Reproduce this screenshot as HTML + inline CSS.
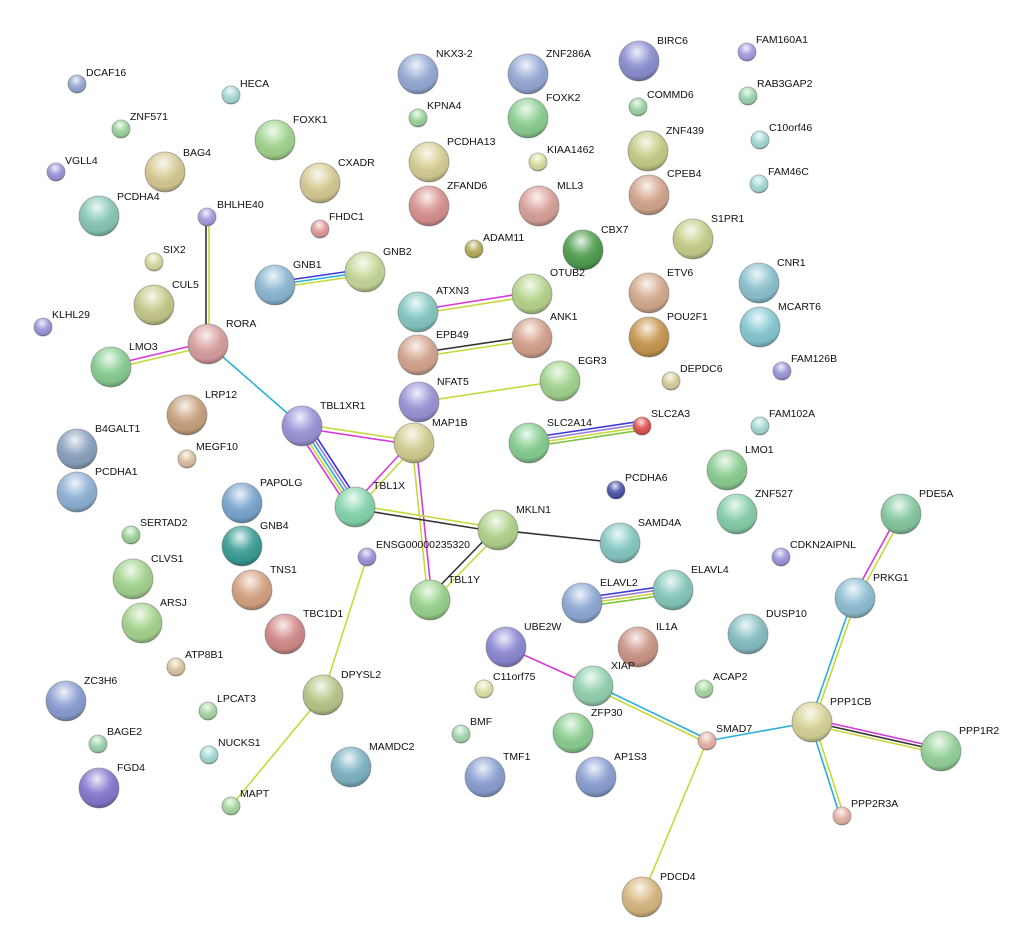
<!DOCTYPE html>
<html><head><meta charset="utf-8"><style>
html,body{margin:0;padding:0;background:#fff;}
svg{display:block;}
text{font-family:"Liberation Sans",sans-serif;font-size:10.5px;fill:#111;}
.n{stroke-width:1;}
</style></head><body>
<svg width="1012" height="944" viewBox="0 0 1012 944" xmlns="http://www.w3.org/2000/svg">
<defs>
<radialGradient id="g" cx="45%" cy="28%" r="70%">
<stop offset="0" stop-color="#fff" stop-opacity="0.85"/>
<stop offset="0.45" stop-color="#fff" stop-opacity="0.15"/>
<stop offset="0.85" stop-color="#000" stop-opacity="0.05"/>
<stop offset="1" stop-color="#000" stop-opacity="0.25"/>
</radialGradient>
</defs>
<g fill="none" stroke-width="1.6">
<!-- BHLHE40-RORA -->
<line x1="206" y1="217" x2="206" y2="344" stroke="#333"/><line x1="209" y1="217" x2="209" y2="344" stroke="#c6d83a"/>
<!-- RORA-LMO3 -->
<line x1="208" y1="342" x2="111" y2="365" stroke="#d63ad6"/><line x1="208" y1="346" x2="111" y2="369" stroke="#c6d83a"/>
<!-- RORA-TBL1XR1 -->
<line x1="208" y1="344" x2="302" y2="426" stroke="#2ab0d8"/>
<!-- GNB1-GNB2 -->
<line x1="275" y1="282" x2="365" y2="269" stroke="#3a3ad8"/><line x1="275" y1="285" x2="365" y2="272" stroke="#2ab0d8"/><line x1="275" y1="288" x2="365" y2="275" stroke="#c6d83a"/>
<!-- ATXN3-OTUB2 -->
<line x1="418" y1="310" x2="532" y2="292" stroke="#d63ad6"/><line x1="418" y1="314" x2="532" y2="296" stroke="#c6d83a"/>
<!-- EPB49-ANK1 -->
<line x1="418" y1="353" x2="532" y2="336" stroke="#333"/><line x1="418" y1="357" x2="532" y2="340" stroke="#c6d83a"/>
<!-- NFAT5-EGR3 -->
<line x1="419" y1="402" x2="560" y2="381" stroke="#c6d83a"/>
<!-- TBL1XR1-MAP1B -->
<line x1="302" y1="428" x2="414" y2="445" stroke="#d63ad6"/><line x1="302" y1="424" x2="414" y2="441" stroke="#c6d83a"/>
<!-- TBL1XR1-TBL1X -->
<line x1="296" y1="428" x2="349" y2="509" stroke="#d63ad6"/><line x1="299" y1="427" x2="352" y2="508" stroke="#c6d83a"/><line x1="302" y1="426" x2="355" y2="507" stroke="#2ab0d8"/><line x1="305" y1="425" x2="358" y2="506" stroke="#9a7ad8"/><line x1="308" y1="424" x2="361" y2="505" stroke="#3a3ad8"/>
<!-- MAP1B-TBL1X -->
<line x1="412" y1="441" x2="353" y2="505" stroke="#d63ad6"/><line x1="416" y1="445" x2="357" y2="509" stroke="#c6d83a"/>
<!-- MAP1B-TBL1Y -->
<line x1="416" y1="443" x2="432" y2="600" stroke="#d63ad6"/><line x1="412" y1="443" x2="428" y2="600" stroke="#c6d83a"/>
<!-- TBL1X-MKLN1 -->
<line x1="355" y1="509" x2="498" y2="532" stroke="#333"/><line x1="355" y1="505" x2="498" y2="528" stroke="#c6d83a"/>
<!-- MKLN1-SAMD4A -->
<line x1="498" y1="530" x2="620" y2="543" stroke="#333"/>
<!-- MKLN1-TBL1Y -->
<line x1="496" y1="528" x2="428" y2="598" stroke="#333"/><line x1="500" y1="532" x2="432" y2="602" stroke="#c6d83a"/>
<!-- SLC2A14-SLC2A3 -->
<line x1="529" y1="438" x2="642" y2="421" stroke="#3a3ad8"/><line x1="529" y1="441" x2="642" y2="424" stroke="#9a7ad8"/><line x1="529" y1="444" x2="642" y2="427" stroke="#c6d83a"/><line x1="529" y1="447" x2="642" y2="430" stroke="#7ac43a"/>
<!-- ELAVL2-ELAVL4 -->
<line x1="582" y1="598" x2="673" y2="585" stroke="#3a3ad8"/><line x1="582" y1="601" x2="673" y2="588" stroke="#9a7ad8"/><line x1="582" y1="604" x2="673" y2="591" stroke="#c6d83a"/><line x1="582" y1="607" x2="673" y2="594" stroke="#7ac43a"/>
<!-- ENSG-DPYSL2 -->
<line x1="367" y1="557" x2="323" y2="695" stroke="#c6d83a"/>
<line x1="323" y1="695" x2="231" y2="806" stroke="#c6d83a"/>
<!-- UBE2W-XIAP -->
<line x1="506" y1="647" x2="593" y2="686" stroke="#d63ad6"/>
<!-- XIAP-SMAD7 -->
<line x1="593" y1="684" x2="707" y2="739" stroke="#2ab0d8"/><line x1="593" y1="688" x2="707" y2="743" stroke="#c6d83a"/>
<line x1="707" y1="741" x2="812" y2="722" stroke="#2ab0d8"/>
<line x1="707" y1="741" x2="642" y2="897" stroke="#c6d83a"/>
<!-- PDE5A-PRKG1 -->
<line x1="899" y1="513" x2="853" y2="597" stroke="#d63ad6"/><line x1="903" y1="515" x2="857" y2="599" stroke="#c6d83a"/>
<!-- PRKG1-PPP1CB -->
<line x1="853" y1="598" x2="810" y2="722" stroke="#2ab0d8"/><line x1="857" y1="598" x2="814" y2="722" stroke="#c6d83a"/>
<!-- PPP1CB-PPP1R2 -->
<line x1="812" y1="719" x2="941" y2="748" stroke="#d63ad6"/><line x1="812" y1="722" x2="941" y2="751" stroke="#333"/><line x1="812" y1="725" x2="941" y2="754" stroke="#c6d83a"/>
<!-- PPP1CB-PPP2R3A -->
<line x1="810" y1="722" x2="840" y2="816" stroke="#2ab0d8"/><line x1="814" y1="722" x2="844" y2="816" stroke="#c6d83a"/>
</g>
<g class="n" stroke="#6a6a6a" stroke-opacity="0.5">
<circle cx="77" cy="84" r="9" fill="#97a9d4"/><circle cx="231" cy="95" r="9" fill="#a6dcd7"/><circle cx="121" cy="129" r="9" fill="#9dd59c"/><circle cx="56" cy="172" r="9" fill="#9c97db"/>
<circle cx="165" cy="172" r="20" fill="#d8cb94"/><circle cx="99" cy="216" r="20" fill="#88c9b8"/><circle cx="207" cy="217" r="9" fill="#a99ce0"/><circle cx="154" cy="262" r="9" fill="#d7db9c"/>
<circle cx="154" cy="305" r="20" fill="#c6c98a"/><circle cx="43" cy="327" r="9" fill="#9c97db"/><circle cx="208" cy="344" r="20" fill="#d99e9e"/><circle cx="111" cy="367" r="20" fill="#88cf92"/>
<circle cx="275" cy="140" r="20" fill="#a3d58f"/><circle cx="320" cy="183" r="20" fill="#d8cb94"/><circle cx="320" cy="229" r="9" fill="#e29b9b"/><circle cx="275" cy="285" r="20" fill="#8cb8d4"/><circle cx="365" cy="272" r="20" fill="#c6d99a"/>
<circle cx="418" cy="74" r="20" fill="#95aad6"/><circle cx="418" cy="118" r="9" fill="#9dd59c"/><circle cx="429" cy="162" r="20" fill="#d8cf94"/><circle cx="429" cy="206" r="20" fill="#d99290"/>
<circle cx="528" cy="74" r="20" fill="#95aad6"/><circle cx="528" cy="118" r="20" fill="#8ccf92"/><circle cx="538" cy="162" r="9" fill="#dadf9f"/><circle cx="539" cy="206" r="20" fill="#dba29a"/><circle cx="474" cy="249" r="9" fill="#b8ae5e"/>
<circle cx="639" cy="61" r="20" fill="#8b8fd1"/><circle cx="638" cy="107" r="9" fill="#9dd5a6"/><circle cx="648" cy="151" r="20" fill="#c8cd88"/><circle cx="649" cy="195" r="20" fill="#d5a68e"/>
<circle cx="583" cy="250" r="20" fill="#4f9e4f"/><circle cx="532" cy="294" r="20" fill="#b8d58c"/><circle cx="418" cy="312" r="20" fill="#86c9c4"/><circle cx="418" cy="355" r="20" fill="#d5a68e"/><circle cx="532" cy="338" r="20" fill="#d6a28e"/>
<circle cx="419" cy="402" r="20" fill="#9a95d8"/><circle cx="560" cy="381" r="20" fill="#a3d58f"/>
<circle cx="747" cy="52" r="9" fill="#a89ce0"/><circle cx="748" cy="96" r="9" fill="#9dd5b0"/><circle cx="760" cy="140" r="9" fill="#a6dcd7"/><circle cx="759" cy="184" r="9" fill="#a6dcd7"/>
<circle cx="693" cy="239" r="20" fill="#c8cf8a"/><circle cx="649" cy="293" r="20" fill="#d6ab8e"/><circle cx="649" cy="337" r="20" fill="#c9974f"/><circle cx="759" cy="283" r="20" fill="#8cc3d0"/><circle cx="760" cy="327" r="20" fill="#86c9d4"/>
<circle cx="782" cy="371" r="9" fill="#9c97db"/><circle cx="671" cy="381" r="9" fill="#dbd0a0"/><circle cx="760" cy="426" r="9" fill="#a6dcd7"/>
<circle cx="187" cy="415" r="20" fill="#c9a27e"/><circle cx="187" cy="459" r="9" fill="#ddc3a0"/><circle cx="77" cy="449" r="20" fill="#8aa2bf"/><circle cx="77" cy="492" r="20" fill="#8eb2d6"/>
<circle cx="302" cy="426" r="20" fill="#9a95d8"/><circle cx="414" cy="443" r="20" fill="#d3d092"/><circle cx="529" cy="443" r="20" fill="#86cf92"/><circle cx="642" cy="426" r="9" fill="#e05050"/>
<circle cx="616" cy="490" r="9" fill="#4a52a8"/><circle cx="727" cy="470" r="20" fill="#8ccf92"/><circle cx="737" cy="514" r="20" fill="#86cfaa"/><circle cx="901" cy="514" r="20" fill="#86c9a0"/><circle cx="781" cy="557" r="9" fill="#9c97db"/>
<circle cx="242" cy="503" r="20" fill="#7ba6d0"/><circle cx="355" cy="507" r="20" fill="#86d6ae"/><circle cx="242" cy="546" r="20" fill="#3a9e96"/><circle cx="131" cy="535" r="9" fill="#9dd59c"/><circle cx="367" cy="557" r="9" fill="#9a95d8"/>
<circle cx="498" cy="530" r="20" fill="#b3d58c"/><circle cx="620" cy="543" r="20" fill="#86c9c4"/><circle cx="133" cy="579" r="20" fill="#a3d58f"/><circle cx="252" cy="590" r="20" fill="#d6a383"/><circle cx="142" cy="623" r="20" fill="#a8d58f"/>
<circle cx="285" cy="634" r="20" fill="#d48a8a"/><circle cx="430" cy="600" r="20" fill="#98d58c"/><circle cx="582" cy="603" r="20" fill="#8eaad6"/><circle cx="673" cy="590" r="20" fill="#86c9bc"/>
<circle cx="855" cy="598" r="20" fill="#8ec0d4"/><circle cx="748" cy="634" r="20" fill="#86c0c4"/><circle cx="506" cy="647" r="20" fill="#8c88d4"/><circle cx="638" cy="647" r="20" fill="#cc9688"/>
<circle cx="176" cy="667" r="9" fill="#ddc7a0"/><circle cx="66" cy="701" r="20" fill="#8a9ed4"/><circle cx="593" cy="686" r="20" fill="#94d3b0"/><circle cx="484" cy="689" r="9" fill="#e0e3a8"/><circle cx="704" cy="689" r="9" fill="#a8d9a2"/>
<circle cx="323" cy="695" r="20" fill="#b8c98a"/><circle cx="208" cy="711" r="9" fill="#a8d9a2"/><circle cx="573" cy="733" r="20" fill="#8ccf92"/><circle cx="707" cy="741" r="9" fill="#e8b4a8"/>
<circle cx="812" cy="722" r="20" fill="#d8d598"/><circle cx="941" cy="751" r="20" fill="#96d39a"/><circle cx="98" cy="744" r="9" fill="#9dd5b0"/><circle cx="209" cy="755" r="9" fill="#a6dcd7"/>
<circle cx="461" cy="734" r="9" fill="#a8d9b0"/><circle cx="351" cy="767" r="20" fill="#7eb4c4"/><circle cx="485" cy="777" r="20" fill="#8aa0d4"/><circle cx="596" cy="777" r="20" fill="#8aa0d4"/>
<circle cx="99" cy="788" r="20" fill="#8478d0"/><circle cx="231" cy="806" r="9" fill="#a8d9a2"/><circle cx="842" cy="816" r="9" fill="#e8b4a8"/><circle cx="642" cy="897" r="20" fill="#d8b880"/>
</g>
<g fill="url(#g)" stroke="none">
<circle cx="77" cy="84" r="9"/><circle cx="231" cy="95" r="9"/><circle cx="121" cy="129" r="9"/><circle cx="56" cy="172" r="9"/>
<circle cx="165" cy="172" r="20"/><circle cx="99" cy="216" r="20"/><circle cx="207" cy="217" r="9"/><circle cx="154" cy="262" r="9"/>
<circle cx="154" cy="305" r="20"/><circle cx="43" cy="327" r="9"/><circle cx="208" cy="344" r="20"/><circle cx="111" cy="367" r="20"/>
<circle cx="275" cy="140" r="20"/><circle cx="320" cy="183" r="20"/><circle cx="320" cy="229" r="9"/><circle cx="275" cy="285" r="20"/><circle cx="365" cy="272" r="20"/>
<circle cx="418" cy="74" r="20"/><circle cx="418" cy="118" r="9"/><circle cx="429" cy="162" r="20"/><circle cx="429" cy="206" r="20"/>
<circle cx="528" cy="74" r="20"/><circle cx="528" cy="118" r="20"/><circle cx="538" cy="162" r="9"/><circle cx="539" cy="206" r="20"/><circle cx="474" cy="249" r="9"/>
<circle cx="639" cy="61" r="20"/><circle cx="638" cy="107" r="9"/><circle cx="648" cy="151" r="20"/><circle cx="649" cy="195" r="20"/>
<circle cx="583" cy="250" r="20"/><circle cx="532" cy="294" r="20"/><circle cx="418" cy="312" r="20"/><circle cx="418" cy="355" r="20"/><circle cx="532" cy="338" r="20"/>
<circle cx="419" cy="402" r="20"/><circle cx="560" cy="381" r="20"/>
<circle cx="747" cy="52" r="9"/><circle cx="748" cy="96" r="9"/><circle cx="760" cy="140" r="9"/><circle cx="759" cy="184" r="9"/>
<circle cx="693" cy="239" r="20"/><circle cx="649" cy="293" r="20"/><circle cx="649" cy="337" r="20"/><circle cx="759" cy="283" r="20"/><circle cx="760" cy="327" r="20"/>
<circle cx="782" cy="371" r="9"/><circle cx="671" cy="381" r="9"/><circle cx="760" cy="426" r="9"/>
<circle cx="187" cy="415" r="20"/><circle cx="187" cy="459" r="9"/><circle cx="77" cy="449" r="20"/><circle cx="77" cy="492" r="20"/>
<circle cx="302" cy="426" r="20"/><circle cx="414" cy="443" r="20"/><circle cx="529" cy="443" r="20"/><circle cx="642" cy="426" r="9"/>
<circle cx="616" cy="490" r="9"/><circle cx="727" cy="470" r="20"/><circle cx="737" cy="514" r="20"/><circle cx="901" cy="514" r="20"/><circle cx="781" cy="557" r="9"/>
<circle cx="242" cy="503" r="20"/><circle cx="355" cy="507" r="20"/><circle cx="242" cy="546" r="20"/><circle cx="131" cy="535" r="9"/><circle cx="367" cy="557" r="9"/>
<circle cx="498" cy="530" r="20"/><circle cx="620" cy="543" r="20"/><circle cx="133" cy="579" r="20"/><circle cx="252" cy="590" r="20"/><circle cx="142" cy="623" r="20"/>
<circle cx="285" cy="634" r="20"/><circle cx="430" cy="600" r="20"/><circle cx="582" cy="603" r="20"/><circle cx="673" cy="590" r="20"/>
<circle cx="855" cy="598" r="20"/><circle cx="748" cy="634" r="20"/><circle cx="506" cy="647" r="20"/><circle cx="638" cy="647" r="20"/>
<circle cx="176" cy="667" r="9"/><circle cx="66" cy="701" r="20"/><circle cx="593" cy="686" r="20"/><circle cx="484" cy="689" r="9"/><circle cx="704" cy="689" r="9"/>
<circle cx="323" cy="695" r="20"/><circle cx="208" cy="711" r="9"/><circle cx="573" cy="733" r="20"/><circle cx="707" cy="741" r="9"/>
<circle cx="812" cy="722" r="20"/><circle cx="941" cy="751" r="20"/><circle cx="98" cy="744" r="9"/><circle cx="209" cy="755" r="9"/>
<circle cx="461" cy="734" r="9"/><circle cx="351" cy="767" r="20"/><circle cx="485" cy="777" r="20"/><circle cx="596" cy="777" r="20"/>
<circle cx="99" cy="788" r="20"/><circle cx="231" cy="806" r="9"/><circle cx="842" cy="816" r="9"/><circle cx="642" cy="897" r="20"/>
</g>
<g>
<text x="86" y="76">DCAF16</text><text x="240" y="87">HECA</text><text x="130" y="120">ZNF571</text><text x="65" y="164">VGLL4</text>
<text x="183" y="156">BAG4</text><text x="117" y="200">PCDHA4</text><text x="217" y="208">BHLHE40</text><text x="163" y="253">SIX2</text>
<text x="172" y="288">CUL5</text><text x="52" y="318">KLHL29</text><text x="226" y="327">RORA</text><text x="129" y="350">LMO3</text>
<text x="293" y="123">FOXK1</text><text x="338" y="166">CXADR</text><text x="329" y="220">FHDC1</text><text x="293" y="268">GNB1</text><text x="383" y="255">GNB2</text>
<text x="436" y="57">NKX3-2</text><text x="427" y="109">KPNA4</text><text x="447" y="145">PCDHA13</text><text x="447" y="189">ZFAND6</text>
<text x="546" y="57">ZNF286A</text><text x="546" y="101">FOXK2</text><text x="547" y="153">KIAA1462</text><text x="557" y="189">MLL3</text><text x="483" y="241">ADAM11</text>
<text x="657" y="44">BIRC6</text><text x="647" y="98">COMMD6</text><text x="666" y="134">ZNF439</text><text x="667" y="177">CPEB4</text>
<text x="601" y="233">CBX7</text><text x="550" y="276">OTUB2</text><text x="436" y="294">ATXN3</text><text x="436" y="338">EPB49</text><text x="550" y="320">ANK1</text>
<text x="437" y="385">NFAT5</text><text x="578" y="364">EGR3</text>
<text x="756" y="43">FAM160A1</text><text x="757" y="87">RAB3GAP2</text><text x="769" y="131">C10orf46</text><text x="768" y="175">FAM46C</text>
<text x="711" y="222">S1PR1</text><text x="667" y="276">ETV6</text><text x="667" y="320">POU2F1</text><text x="777" y="266">CNR1</text><text x="778" y="310">MCART6</text>
<text x="791" y="362">FAM126B</text><text x="680" y="372">DEPDC6</text><text x="769" y="417">FAM102A</text>
<text x="205" y="398">LRP12</text><text x="196" y="450">MEGF10</text><text x="95" y="432">B4GALT1</text><text x="95" y="475">PCDHA1</text>
<text x="320" y="409">TBL1XR1</text><text x="432" y="426">MAP1B</text><text x="547" y="426">SLC2A14</text><text x="651" y="417">SLC2A3</text>
<text x="625" y="481">PCDHA6</text><text x="745" y="453">LMO1</text><text x="755" y="497">ZNF527</text><text x="919" y="497">PDE5A</text><text x="790" y="548">CDKN2AIPNL</text>
<text x="260" y="486">PAPOLG</text><text x="373" y="489">TBL1X</text><text x="260" y="529">GNB4</text><text x="140" y="526">SERTAD2</text><text x="376" y="548">ENSG00000235320</text>
<text x="516" y="513">MKLN1</text><text x="638" y="526">SAMD4A</text><text x="151" y="562">CLVS1</text><text x="270" y="573">TNS1</text><text x="160" y="606">ARSJ</text>
<text x="303" y="617">TBC1D1</text><text x="448" y="583">TBL1Y</text><text x="600" y="586">ELAVL2</text><text x="691" y="573">ELAVL4</text>
<text x="873" y="581">PRKG1</text><text x="766" y="617">DUSP10</text><text x="524" y="630">UBE2W</text><text x="656" y="630">IL1A</text>
<text x="185" y="658">ATP8B1</text><text x="84" y="684">ZC3H6</text><text x="611" y="669">XIAP</text><text x="493" y="680">C11orf75</text><text x="713" y="680">ACAP2</text>
<text x="341" y="678">DPYSL2</text><text x="217" y="702">LPCAT3</text><text x="591" y="716">ZFP30</text><text x="716" y="732">SMAD7</text>
<text x="830" y="705">PPP1CB</text><text x="959" y="734">PPP1R2</text><text x="107" y="735">BAGE2</text><text x="218" y="746">NUCKS1</text>
<text x="470" y="725">BMF</text><text x="369" y="750">MAMDC2</text><text x="503" y="760">TMF1</text><text x="614" y="760">AP1S3</text>
<text x="117" y="771">FGD4</text><text x="240" y="797">MAPT</text><text x="851" y="807">PPP2R3A</text><text x="660" y="880">PDCD4</text>
</g>
</svg>
</body></html>
